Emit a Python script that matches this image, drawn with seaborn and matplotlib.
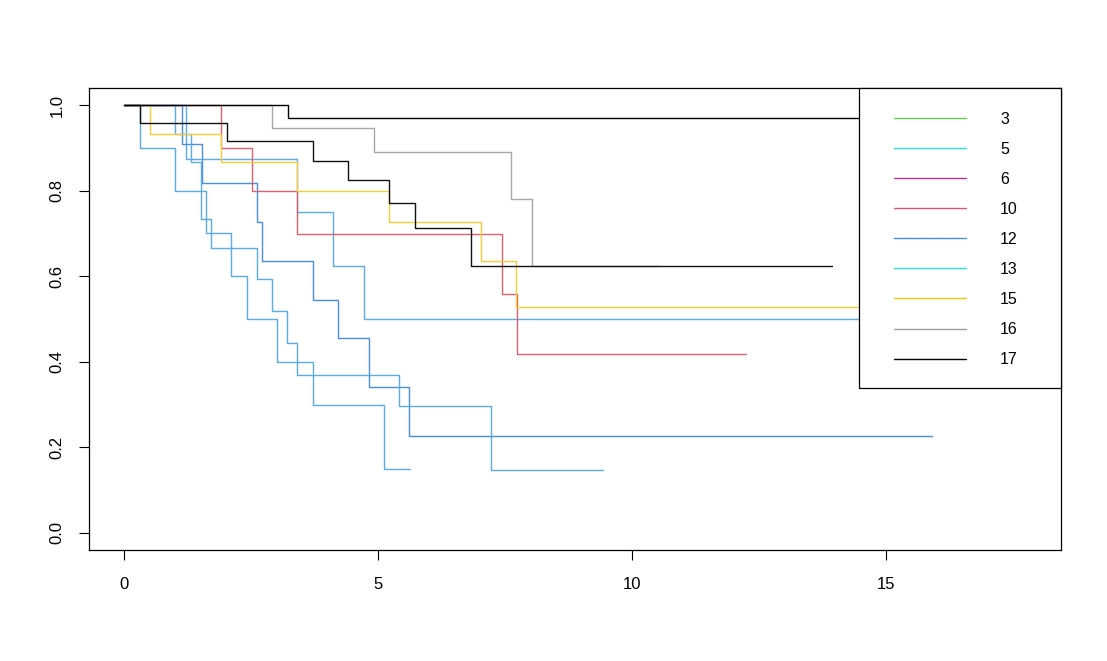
import numpy as np
import pandas as pd
import matplotlib
matplotlib.use("Agg")
import matplotlib.pyplot as plt
import seaborn as sns
from matplotlib.lines import Line2D
from matplotlib.patches import Rectangle

# ---- data ----
curve_names = ["P", "Q", "R", "S", "red", "yellow", "gray", "blackB", "blackA"]

P_t = [0, 1.21, 3.41, 4.12, 4.72, 17.2]
P_s = [1, 0.875, 0.75, 0.625, 0.5, 0.5]
Q_t = [0, 0.31, 1.01, 1.61, 2.11, 2.42, 3.01, 3.71, 5.12, 5.62]
Q_s = [1, 0.9, 0.8, 0.7, 0.6, 0.5, 0.4, 0.3, 0.15, 0.15]
R_t = [0, 1.14, 1.53, 2.61, 2.72, 3.71, 4.22, 4.82, 5.61, 15.9]
R_s = [1, 0.909, 0.818, 0.727, 0.636, 0.545, 0.455, 0.341, 0.227, 0.227]
S_t = [0, 1.01, 1.31, 1.52, 1.71, 2.61, 2.91, 3.21, 3.41, 5.42, 7.22, 9.42]
S_s = [1, 0.933, 0.867, 0.733, 0.667, 0.593, 0.519, 0.444, 0.370, 0.296, 0.148, 0.148]
red_t = [0, 1.91, 2.51, 3.41, 7.43, 7.73, 12.24]
red_s = [1, 0.899, 0.799, 0.699, 0.559, 0.419, 0.419]
yellow_t = [0, 0.51, 1.91, 3.41, 5.22, 7.03, 7.72, 16.8]
yellow_s = [1, 0.933, 0.867, 0.8, 0.726, 0.636, 0.529, 0.529]
gray_t = [0, 2.92, 4.92, 7.62, 8.02, 10.5]
gray_s = [1, 0.947, 0.891, 0.780, 0.624, 0.624]
blackB_t = [0, 0.31, 2.02, 3.71, 4.41, 5.22, 5.72, 6.82, 13.94]
blackB_s = [1, 0.958, 0.916, 0.870, 0.825, 0.772, 0.713, 0.624, 0.624]
blackA_t = [0, 3.22, 17.76]
blackA_s = [1, 0.969, 0.969]

legend_labels = ["3", "5", "6", "10", "12", "13", "15", "16", "17"]
legend_colors = ["#61D04F", "#28E2E5", "#B8309F", "#DF536B", "#4A8EE2",
                 "#28E2E5", "#F5C710", "#9E9E9E", "#000000"]

x_ticks = [0, 5, 10, 15]
y_ticks = [0.0, 0.2, 0.4, 0.6, 0.8, 1.0]
y_tick_labels = ["0.0", "0.2", "0.4", "0.6", "0.8", "1.0"]

curve_colors = {"P": "#5AAAEE", "Q": "#5AAAEE", "R": "#4A8EE2", "S": "#5AAAEE",
                "red": "#E0606F", "yellow": "#F7CC3A", "gray": "#A8A8A8",
                "blackB": "#111111", "blackA": "#000000"}

series = {"P": (P_t, P_s), "Q": (Q_t, Q_s), "R": (R_t, R_s), "S": (S_t, S_s),
          "red": (red_t, red_s), "yellow": (yellow_t, yellow_s),
          "gray": (gray_t, gray_s), "blackB": (blackB_t, blackB_s),
          "blackA": (blackA_t, blackA_s)}

rows = []
for name in curve_names:
    t, s = series[name]
    for ti, si in zip(t, s):
        rows.append({"curve": name, "time": ti, "surv": si})
df = pd.DataFrame(rows)

# ---- figure ----
sns.set_theme(style="white")
plt.rcParams["font.family"] = ["Liberation Sans", "DejaVu Sans"]
plt.rcParams["text.color"] = "black"

W, H = 1107, 661
fig = plt.figure(figsize=(W / 100, H / 100), dpi=100)
ax = fig.add_axes([89 / W, 1 - 550 / H, (1061 - 89) / W, (550 - 88) / H])

sns.lineplot(data=df, x="time", y="surv", hue="curve", hue_order=curve_names,
             palette=curve_colors, estimator=None, sort=False, units="curve",
             drawstyle="steps-post", linewidth=1.0, legend=False, ax=ax)

ax.set_xlim(-0.69, 18.44)
ax.set_ylim(-0.04, 1.04)
ax.set_xticks(x_ticks)
ax.set_xticklabels([str(v) for v in x_ticks])
ax.set_yticks(y_ticks)
ax.set_yticklabels(y_tick_labels, rotation=90, va="center")
ax.set_xlabel("")
ax.set_ylabel("")
for sp in ax.spines.values():
    sp.set_visible(True)
    sp.set_color("black")
    sp.set_linewidth(0.9)
ax.tick_params(axis="both", which="major", direction="out", length=7.5, width=0.8,
               color="black", labelsize=12, labelcolor="black",
               bottom=True, left=True, top=False, right=False)
ax.tick_params(axis="x", pad=12)
ax.tick_params(axis="y", pad=10)

# legend box (white, covering the curves)
lx0 = (859 - 89) / (1061 - 89)
ly0 = (550 - 387.7) / (550 - 88)
ax.add_patch(Rectangle((lx0, ly0), 1 - lx0, 1 - ly0, transform=ax.transAxes,
                       facecolor="white", edgecolor="black", linewidth=0.9,
                       zorder=4, clip_on=False))
fs = 11.5
fs_px = fs * 100 / 72
handles = [Line2D([], [], color=c, lw=1.0) for c in legend_colors]
leg = ax.legend(handles, legend_labels, loc="upper left", frameon=False,
                bbox_to_anchor=(894 / W, 1 - 111.5 / H), bbox_transform=fig.transFigure,
                borderpad=0, borderaxespad=0, fontsize=fs,
                handlelength=72 / fs_px, handletextpad=34 / fs_px,
                labelspacing=0.945, labelcolor="black")
leg.set_zorder(5)

fig.savefig("out.png", dpi=100)
